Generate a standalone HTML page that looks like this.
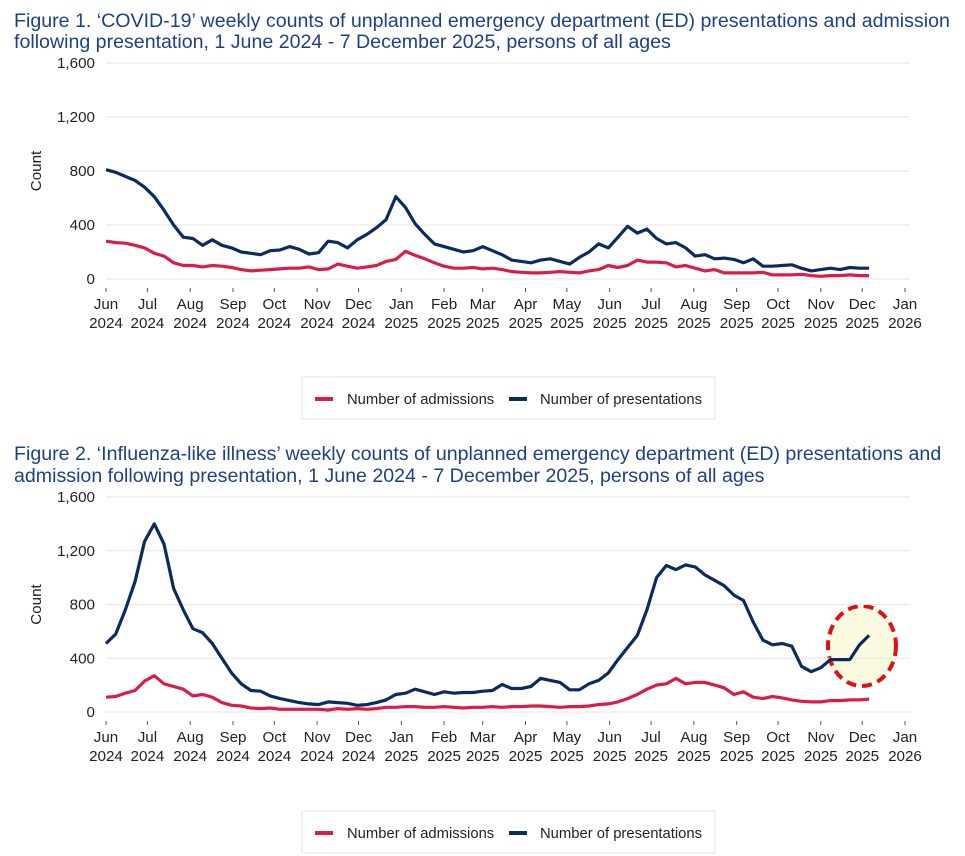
<!DOCTYPE html>
<html><head><meta charset="utf-8">
<style>
body{margin:0;background:#fff;width:965px;height:856px;overflow:hidden;font-family:"Liberation Sans",Arial,sans-serif}
svg{display:block}
.t{fill:#1f3f8a;font-size:19.6px}
.ax{fill:#222;font-size:15.2px}
.lg{fill:#222;font-size:14.8px}
</style></head><body>
<svg id="s" width="965" height="856">
<text class="t" x="14" y="27">Figure 1. ‘COVID-19’ weekly counts of unplanned emergency department (ED) presentations and admission</text>
<text class="t" x="14" y="48">following presentation, 1 June 2024 - 7 December 2025, persons of all ages</text>
<text class="t" x="14" y="460">Figure 2. ‘Influenza-like illness’ weekly counts of unplanned emergency department (ED) presentations and</text>
<text class="t" x="14" y="482">admission following presentation, 1 June 2024 - 7 December 2025, persons of all ages</text>
<g id="c1"></g>
<g id="c2"></g>
</svg>
<script>
const months = ["Jun","Jul","Aug","Sep","Oct","Nov","Dec","Jan","Feb","Mar","Apr","May","Jun","Jul","Aug","Sep","Oct","Nov","Dec","Jan"];
const years = ["2024","2024","2024","2024","2024","2024","2024","2025","2025","2025","2025","2025","2025","2025","2025","2025","2025","2025","2025","2026"];
const monthDays = [0,30,61,92,122,153,183,214,245,273,304,334,365,395,426,457,487,518,548,579];
const yTicks = [0,400,800,1200,1600];
const yTickLabels = ["0","400","800","1,200","1,600"];
const covidPresentations = [810,790,760,730,680,610,510,400,310,300,250,290,250,230,200,190,180,210,215,240,220,185,195,280,270,230,290,330,380,440,610,530,410,330,260,240,220,200,210,240,210,180,140,130,120,140,150,130,110,160,200,260,230,310,390,340,370,300,260,270,230,170,180,150,155,145,120,150,95,95,100,105,80,60,70,80,70,85,80,80];
const covidAdmissions = [280,270,265,250,230,190,170,120,100,100,90,100,95,85,70,60,65,70,75,80,80,90,70,75,110,95,80,90,100,130,145,205,175,150,120,95,80,80,85,75,80,70,55,50,45,45,50,55,50,45,60,70,100,85,100,140,125,125,120,90,100,80,60,70,45,45,45,45,50,30,30,30,35,25,20,25,25,30,25,25];
const iliPresentations = [510,580,760,970,1270,1400,1250,920,760,620,590,510,400,290,210,160,155,120,100,85,70,60,55,75,70,65,50,55,70,90,130,140,170,150,130,150,140,145,145,155,160,205,175,175,190,250,235,220,165,165,210,235,290,390,480,570,760,1000,1090,1060,1095,1080,1020,980,940,870,830,670,535,500,510,490,340,300,330,390,390,390,500,570];
const iliAdmissions = [110,115,140,160,230,270,210,190,170,120,130,110,70,50,45,30,25,30,20,20,20,20,20,15,25,20,25,20,25,35,35,40,40,35,35,40,35,30,35,35,40,35,40,40,45,45,40,35,40,40,45,55,60,75,100,130,170,200,210,250,210,220,220,200,180,130,150,110,100,115,105,90,80,75,75,85,85,90,90,95];

const NS="http://www.w3.org/2000/svg";
function mk(p,tag,a){const e=document.createElementNS(NS,tag);for(const k in a)e.setAttribute(k,a[k]);p.appendChild(e);return e;}
const X0=106,X1=905;
function xDay(d){return X0+(X1-X0)*d/579;}

function draw(g,y0,y1,pres,adm,prefix,legY){
  const yv=v=>y0-(y0-y1)*v/1600;
  yTicks.forEach((t,i)=>{
    const l=mk(g,"line",{x1:X0,x2:X1+5,y1:yv(t),y2:yv(t),stroke:"#e6e6e6","stroke-width":1});
    
    
    const tx=mk(g,"text",{x:95,y:yv(t)+5,"text-anchor":"end",class:"ax"});
    tx.textContent=yTickLabels[i];
    
    
  });
  const yt=mk(g,"text",{x:0,y:0,class:"ax","text-anchor":"middle",transform:`translate(41,${(y0+y1)/2}) rotate(-90)`,"font-size":"18"});
  yt.textContent="Count";
  
  
  months.forEach((m,i)=>{
    const x=xDay(monthDays[i]);
    const tk=mk(g,"line",{x1:x,x2:x,y1:y0+9,y2:y0+13,stroke:"#555","stroke-width":1});
    
    
    const t1=mk(g,"text",{x:x,y:y0+30,"text-anchor":"middle",class:"ax"});
    t1.textContent=m;
    
    
    const t2=mk(g,"text",{x:x,y:y0+49,"text-anchor":"middle",class:"ax"});
    t2.textContent=years[i];
    
    
  });
  const pts=a=>a.map((v,i)=>xDay(i*7).toFixed(1)+","+yv(v).toFixed(1)).join(" ");
  const la=mk(g,"polyline",{points:pts(adm),fill:"none",stroke:"#d81e48","stroke-width":3.2,"stroke-linejoin":"round"});
  
  
  const lp=mk(g,"polyline",{points:pts(pres),fill:"none",stroke:"#0c2a5e","stroke-width":3.2,"stroke-linejoin":"round"});
  
  
  const lg=mk(g,"g",{});
  
  
  mk(lg,"rect",{x:302,y:legY,width:413,height:42,fill:"#fff",stroke:"#e3e3e3"});
  mk(lg,"line",{x1:315,x2:333,y1:legY+22,y2:legY+22,stroke:"#d81e48","stroke-width":4});
  const a=mk(lg,"text",{x:347,y:legY+27,class:"lg"});a.textContent="Number of admissions";
  
  
  mk(lg,"line",{x1:509,x2:527,y1:legY+22,y2:legY+22,stroke:"#0c2a5e","stroke-width":4});
  const b=mk(lg,"text",{x:540,y:legY+27,class:"lg"});b.textContent="Number of presentations";
  
  
}
const c1=document.getElementById("c1"),c2=document.getElementById("c2");
draw(c1,279,63,covidPresentations,covidAdmissions,"covid",377);
const hl=mk(c2,"ellipse",{cx:862,cy:646,rx:34,ry:40,fill:"#fbfbe0",stroke:"#e01010","stroke-width":4,"stroke-dasharray":"10,6"});


draw(c2,712,497,iliPresentations,iliAdmissions,"ili",811);
</script>
</body></html>
